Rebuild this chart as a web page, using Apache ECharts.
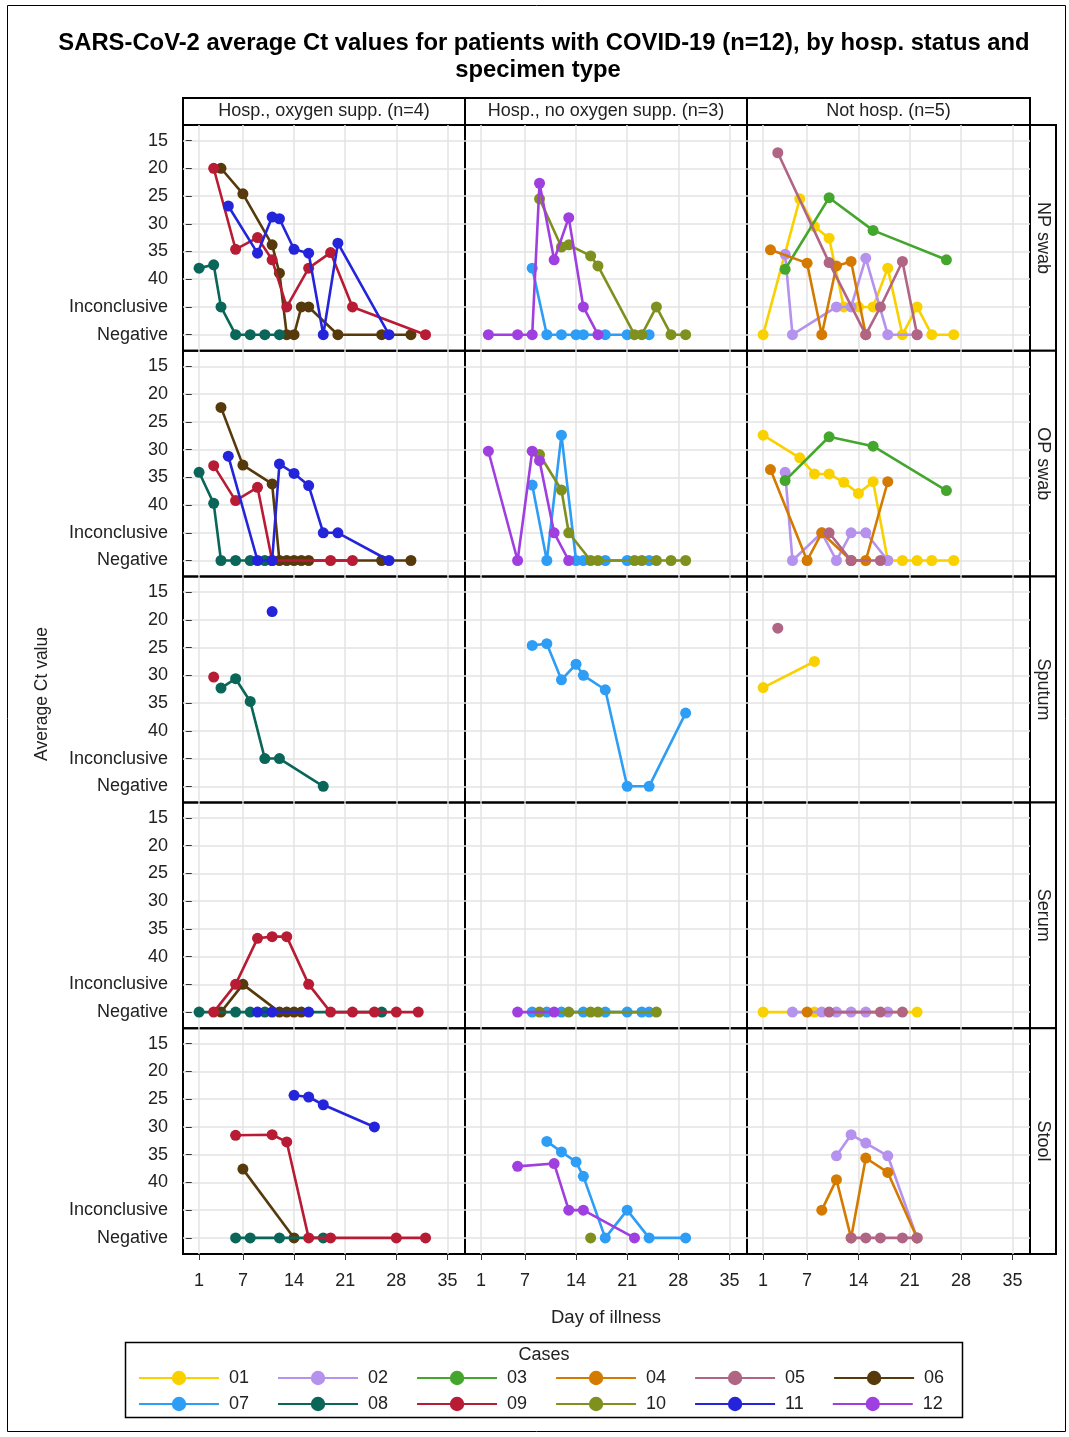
<!DOCTYPE html>
<html><head><meta charset="utf-8">
<script src="https://cdn.jsdelivr.net/npm/echarts@6/dist/echarts.min.js"></script>
<style>html,body{margin:0;padding:0;background:#fff}#c{width:1069px;height:1437px}</style>
</head><body><div id="c"></div>
<script>
const INC = 45, NEG = 50;
const cases = ['01','02','03','04','05','06','07','08','09','10','11','12'];
const caseColors = ['#F9D100','#B592EE','#45A62E','#D47A00','#B06585','#573A0B','#2D9DF5','#0A6658','#B71C34','#80901F','#2424DB','#A03FE0'];
const columnLabels = ['Hosp., oxygen supp. (n=4)','Hosp., no oxygen supp. (n=3)','Not hosp. (n=5)'];
const rowLabels = ['NP swab','OP swab','Sputum','Serum','Stool'];
const xTicks = [1,7,14,21,28,35];
const yTicks = [15,20,25,30,35,40,INC,NEG];
const yTickLabels = ['15','20','25','30','35','40','Inconclusive','Negative'];

// rows: [case, day of illness, average Ct]  (INC = Inconclusive, NEG = Negative)
const npOxygen = [
 ['06',4,20],['06',7,24.6],['06',11,33.8],['06',12,38.9],['06',13,NEG],['06',14,NEG],['06',15,INC],['06',16,INC],['06',20,NEG],['06',26,NEG],['06',30,NEG],
 ['08',1,38],['08',3,37.4],['08',4,INC],['08',6,NEG],['08',8,NEG],['08',10,NEG],['08',12,NEG],
 ['09',3,20],['09',6,34.6],['09',9,32.5],['09',11,36.5],['09',13,INC],['09',16,38],['09',19,35.2],['09',22,INC],['09',32,NEG],
 ['11',5,26.8],['11',9,35.3],['11',11,28.8],['11',12,29.1],['11',14,34.6],['11',16,35.3],['11',18,NEG],['11',20,33.5],['11',27,NEG]
];
const npNoOxygen = [
 ['07',8,38],['07',10,NEG],['07',12,NEG],['07',14,NEG],['07',15,NEG],['07',18,NEG],['07',21,NEG],['07',24,NEG],
 ['10',9,25.5],['10',12,34.2],['10',13,33.8],['10',16,35.8],['10',17,37.6],['10',22,NEG],['10',23,NEG],['10',25,INC],['10',27,NEG],['10',29,NEG],
 ['12',2,NEG],['12',6,NEG],['12',8,NEG],['12',9,22.7],['12',11,36.5],['12',13,28.9],['12',15,INC],['12',17,NEG]
];
const npNotHosp = [
 ['01',1,NEG],['01',6,25.5],['01',8,30.5],['01',10,32.6],['01',12,INC],['01',14,INC],['01',16,INC],['01',18,38],['01',20,NEG],['01',22,INC],['01',24,NEG],['01',27,NEG],
 ['02',4,35.5],['02',5,NEG],['02',11,INC],['02',13,INC],['02',15,36.2],['02',18,NEG],['02',22,NEG],
 ['03',4,38.2],['03',10,25.3],['03',16,31.2],['03',26,36.5],
 ['04',2,34.7],['04',7,37.1],['04',9,NEG],['04',11,37.6],['04',13,36.8],['04',15,NEG],
 ['05',3,17.2],['05',10,37],['05',15,NEG],['05',17,INC],['05',20,36.8],['05',22,NEG]
];
const opOxygen = [
 ['06',4,22.4],['06',7,32.8],['06',11,36.2],['06',12,NEG],['06',13,NEG],['06',14,NEG],['06',15,NEG],['06',16,NEG],['06',26,NEG],['06',30,NEG],
 ['08',1,34.1],['08',3,39.7],['08',4,NEG],['08',6,NEG],['08',8,NEG],['08',10,NEG],
 ['09',3,32.9],['09',6,39.2],['09',9,36.8],['09',11,NEG],['09',19,NEG],['09',22,NEG],
 ['11',5,31.2],['11',9,NEG],['11',11,NEG],['11',12,32.6],['11',14,34.3],['11',16,36.5],['11',18,INC],['11',20,INC],['11',27,NEG]
];
const opNoOxygen = [
 ['07',8,36.4],['07',10,NEG],['07',12,27.4],['07',14,NEG],['07',15,NEG],['07',18,NEG],['07',21,NEG],['07',24,NEG],
 ['10',9,30.9],['10',12,37.3],['10',13,INC],['10',16,NEG],['10',17,NEG],['10',22,NEG],['10',23,NEG],['10',25,NEG],['10',27,NEG],['10',29,NEG],
 ['12',2,30.3],['12',6,NEG],['12',8,30.3],['12',9,32],['12',11,INC],['12',13,NEG]
];
const opNotHosp = [
 ['01',1,27.4],['01',6,31.5],['01',8,34.4],['01',10,34.4],['01',12,35.9],['01',14,37.9],['01',16,35.8],['01',18,NEG],['01',20,NEG],['01',22,NEG],['01',24,NEG],['01',27,NEG],
 ['02',4,34.1],['02',5,NEG],['02',9,INC],['02',11,NEG],['02',13,INC],['02',15,INC],['02',18,NEG],
 ['03',4,35.6],['03',10,27.7],['03',16,29.4],['03',26,37.4],
 ['04',2,33.6],['04',7,NEG],['04',9,INC],['04',13,NEG],['04',15,NEG],['04',18,35.8],
 ['05',10,INC],['05',13,NEG],['05',17,NEG]
];
const sputumOxygen = [
 ['08',4,32.3],['08',6,30.6],['08',8,34.7],['08',10,INC],['08',12,INC],['08',18,NEG],
 ['09',3,30.3],
 ['11',11,18.5]
];
const sputumNoOxygen = [
 ['07',8,24.6],['07',10,24.3],['07',12,30.8],['07',14,28],['07',15,30],['07',18,32.6],['07',21,NEG],['07',24,NEG],['07',29,36.8]
];
const sputumNotHosp = [
 ['01',1,32.2],['01',8,27.5],
 ['05',3,21.5]
];
const serumOxygen = [
 ['06',4,NEG],['06',7,INC],['06',12,NEG],['06',13,NEG],['06',14,NEG],['06',15,NEG],
 ['08',1,NEG],['08',6,NEG],['08',8,NEG],['08',10,NEG],['08',26,NEG],
 ['09',3,NEG],['09',6,INC],['09',9,36.7],['09',11,36.4],['09',13,36.4],['09',16,INC],['09',19,NEG],['09',22,NEG],['09',25,NEG],['09',28,NEG],['09',31,NEG],
 ['11',9,NEG],['11',11,NEG],['11',16,NEG]
];
const serumNoOxygen = [
 ['07',8,NEG],['07',10,NEG],['07',12,NEG],['07',15,NEG],['07',18,NEG],['07',21,NEG],['07',23,NEG],['07',24,NEG],
 ['10',9,NEG],['10',13,NEG],['10',16,NEG],['10',17,NEG],['10',25,NEG],
 ['12',6,NEG],['12',11,NEG]
];
const serumNotHosp = [
 ['01',1,NEG],['01',8,NEG],['01',22,NEG],
 ['02',5,NEG],['02',9,NEG],['02',11,NEG],['02',13,NEG],['02',15,NEG],['02',18,NEG],
 ['04',7,NEG],
 ['05',10,NEG],['05',17,NEG],['05',20,NEG]
];
const stoolOxygen = [
 ['06',7,37.6],['06',14,NEG],
 ['08',6,NEG],['08',8,NEG],['08',12,NEG],['08',18,NEG],
 ['09',6,31.5],['09',11,31.4],['09',13,32.7],['09',16,NEG],['09',19,NEG],['09',28,NEG],['09',32,NEG],
 ['11',14,24.3],['11',16,24.6],['11',18,26],['11',25,30]
];
const stoolNoOxygen = [
 ['07',10,32.6],['07',12,34.5],['07',14,36.3],['07',15,38.9],['07',18,NEG],['07',21,INC],['07',24,NEG],['07',29,NEG],
 ['10',16,NEG],
 ['12',6,37.1],['12',11,36.6],['12',13,INC],['12',15,INC],['12',22,NEG]
];
const stoolNotHosp = [
 ['02',11,35.2],['02',13,31.4],['02',15,32.9],['02',18,35.2],['02',22,NEG],
 ['04',9,INC],['04',11,39.5],['04',13,NEG],['04',15,35.6],['04',18,38.2],['04',22,NEG],
 ['05',13,NEG],['05',15,NEG],['05',17,NEG],['05',20,NEG],['05',22,NEG]
];

const panels = [
  [npOxygen, npNoOxygen, npNotHosp],
  [opOxygen, opNoOxygen, opNotHosp],
  [sputumOxygen, sputumNoOxygen, sputumNotHosp],
  [serumOxygen, serumNoOxygen, serumNotHosp],
  [stoolOxygen, stoolNoOxygen, stoolNotHosp]
];

const FONT = '"Liberation Sans", Arial, sans-serif';
const TXT = '#222';
const colX = [183, 465, 747, 1030];
const rowTop = 125, rowH = 225.8;

const grids = [], xAxes = [], yAxes = [], series = [];
panels.forEach((row, r) => {
  row.forEach((rows, c) => {
    const idx = grids.length;
    grids.push({left: colX[c], top: rowTop + r*rowH, width: colX[c+1]-colX[c], height: rowH,
      show: true, borderColor: '#000', borderWidth: 2, backgroundColor: 'transparent'});
    xAxes.push({gridIndex: idx, type: 'value', min: -1.2, max: 37.4,
      axisLine: {show: false},
      axisTick: {show: r === 4, customValues: xTicks, length: 6, lineStyle: {color: '#333'}},
      axisLabel: {show: r === 4, customValues: xTicks, margin: 18, fontSize: 18, fontFamily: FONT, color: TXT},
      splitLine: {show: true, lineStyle: {color: '#e3e3e3', width: 1.5}}});
    yAxes.push({gridIndex: idx, type: 'value', inverse: true, min: 12.2, max: 52.9,
      axisLine: {show: false},
      axisTick: {show: c === 0, customValues: yTicks, length: 6, lineStyle: {color: '#333'}},
      axisLabel: {show: c === 0, customValues: yTicks, margin: 15, fontSize: 18, fontFamily: FONT, color: TXT,
        formatter: v => yTickLabels[yTicks.indexOf(v)] || ''},
      splitLine: {show: true, lineStyle: {color: '#e3e3e3', width: 1.5}}});
    cases.forEach((cs, k) => {
      const pts = rows.filter(d => d[0] === cs).map(d => [d[1], d[2]]);
      if (!pts.length) return;
      series.push({type: 'line', name: cs, xAxisIndex: idx, yAxisIndex: idx, data: pts,
        symbol: 'circle', symbolSize: 11, showSymbol: true,
        lineStyle: {width: 2.6, color: caseColors[k]}, itemStyle: {color: caseColors[k]},
        emphasis: {disabled: true}, animation: false, z: 2 + k*0.01});
    });
  });
});

const graphics = [];
// outer frame
graphics.push({type: 'rect', shape: {x: 7.5, y: 5.5, width: 1058, height: 1426}, style: {fill: 'none', stroke: '#000', lineWidth: 1}});
// title
graphics.push({type: 'text', x: 544, y: 43, style: {text: 'SARS-CoV-2 average Ct values for patients with COVID-19 (n=12), by hosp. status and', font: 'bold 23.8px ' + FONT, fill: '#000', textAlign: 'center', textVerticalAlign: 'middle'}});
graphics.push({type: 'text', x: 538, y: 70, style: {text: 'specimen type', font: 'bold 23.8px ' + FONT, fill: '#000', textAlign: 'center', textVerticalAlign: 'middle'}});
// column headers
columnLabels.forEach((t, c) => {
  graphics.push({type: 'rect', shape: {x: colX[c], y: 98, width: colX[c+1]-colX[c], height: 27}, style: {fill: '#fff', stroke: '#000', lineWidth: 2}});
  graphics.push({type: 'text', x: (colX[c]+colX[c+1])/2, y: 111.5, style: {text: t, font: '18px ' + FONT, fill: TXT, textAlign: 'center', textVerticalAlign: 'middle'}});
});
// row headers
rowLabels.forEach((t, r) => {
  const y0 = rowTop + r*rowH;
  graphics.push({type: 'rect', shape: {x: 1030, y: y0, width: 26, height: rowH}, style: {fill: '#fff', stroke: '#000', lineWidth: 2}});
  graphics.push({type: 'text', x: 1043, y: y0 + rowH/2, rotation: -Math.PI/2, style: {text: t, font: '18px ' + FONT, fill: TXT, textAlign: 'center', textVerticalAlign: 'middle'}});
});
// axis titles
graphics.push({type: 'text', x: 42, y: 694, rotation: Math.PI/2, style: {text: 'Average Ct value', font: '17.5px ' + FONT, fill: TXT, textAlign: 'center', textVerticalAlign: 'middle'}});
graphics.push({type: 'text', x: 606, y: 1318, style: {text: 'Day of illness', font: '18.5px ' + FONT, fill: TXT, textAlign: 'center', textVerticalAlign: 'middle'}});
// legend box + title
graphics.push({type: 'rect', shape: {x: 125.5, y: 1342.5, width: 837, height: 75}, style: {fill: 'none', stroke: '#000', lineWidth: 1.5}});
graphics.push({type: 'text', x: 544, y: 1355, style: {text: 'Cases', font: '18px ' + FONT, fill: TXT, textAlign: 'center', textVerticalAlign: 'middle'}});

const legendBase = {left: 138, orient: 'horizontal', padding: 0, itemWidth: 80, itemHeight: 18, itemGap: 28,
  textStyle: {fontSize: 18, fontFamily: FONT, color: TXT, padding: [0, 0, 0, 5]}, selectedMode: false};

const chart = echarts.init(document.getElementById('c'), null, {renderer: 'canvas'});
chart.setOption({
  animation: false,
  backgroundColor: '#fff',
  grid: grids, xAxis: xAxes, yAxis: yAxes, series: series,
  legend: [
    Object.assign({}, legendBase, {top: 1369, data: cases.slice(0, 6)}),
    Object.assign({}, legendBase, {top: 1395, data: cases.slice(6)})
  ],
  graphic: graphics
});
</script></body></html>
